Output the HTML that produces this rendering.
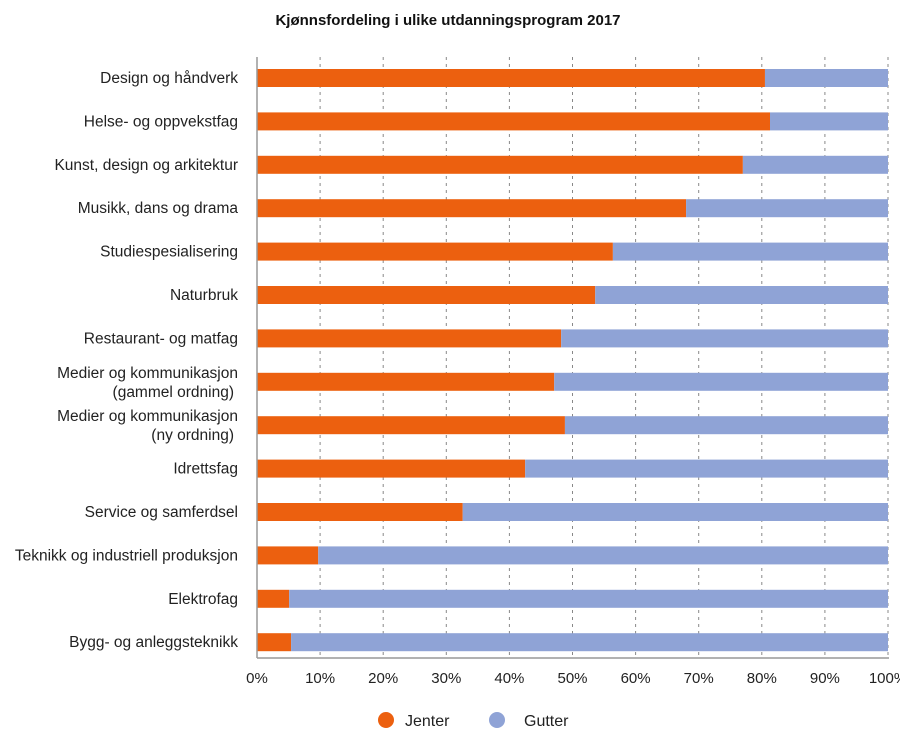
<!DOCTYPE html>
<html><head><meta charset="utf-8"><style>
body{margin:0;background:#fff;width:900px;height:741px;overflow:hidden;font-family:"Liberation Sans",Arial,sans-serif}
</style></head><body>
<svg id="chart" width="900" height="741" xmlns="http://www.w3.org/2000/svg">
<text x="448" y="25" text-anchor="middle" font-size="15" font-weight="bold" fill="#111">Kjønnsfordeling i ulike utdanningsprogram 2017</text>
<g id="grid"></g><g id="bars"></g><g id="labels"></g><g id="ticks"></g>
<line x1="257" y1="57" x2="257" y2="658" stroke="#999" stroke-width="1.5"/>
<line x1="257" y1="658" x2="889" y2="658" stroke="#999" stroke-width="1.5"/>
<g>
<circle cx="386" cy="720" r="8" fill="#ec600f"/>
<text x="405" y="726" font-size="16" fill="#222">Jenter</text>
<circle cx="497" cy="720" r="8" fill="#8fa3d6"/>
<text x="524" y="726" font-size="16" fill="#222">Gutter</text>
</g>
</svg>
<script>
const categories=[["Design og håndverk"],["Helse- og oppvekstfag"],["Kunst, design og arkitektur"],["Musikk, dans og drama"],["Studiespesialisering"],["Naturbruk"],["Restaurant- og matfag"],["Medier og kommunikasjon","(gammel ordning)"],["Medier og kommunikasjon","(ny ordning)"],["Idrettsfag"],["Service og samferdsel"],["Teknikk og industriell produksjon"],["Elektrofag"],["Bygg- og anleggsteknikk"]];
const jenter=[80.5,81.3,77.0,68.0,56.4,53.6,48.2,47.1,48.8,42.5,32.6,9.7,5.1,5.4];
const tickValues=[0,10,20,30,40,50,60,70,80,90,100];
const tickLabels=["0%","10%","20%","30%","40%","50%","60%","70%","80%","90%","100%"];
const NS="http://www.w3.org/2000/svg";
const x0=257,x1=888,yTop=78,step=43.4,bh=18;
const xs=v=>x0+(x1-x0)*v/100;
const ys=i=>yTop+i*step;
function mk(t,a,p){const e=document.createElementNS(NS,t);for(const k in a)e.setAttribute(k,a[k]);p.appendChild(e);return e;}
const grid=document.getElementById('grid'),bars=document.getElementById('bars'),labels=document.getElementById('labels'),ticks=document.getElementById('ticks');
tickValues.forEach((v,i)=>{
 if(v>0){const l=mk('line',{x1:xs(v),x2:xs(v),y1:57,y2:658,stroke:'#888','stroke-dasharray':'3,4','stroke-width':1},grid);
 
 }
 const t=mk('text',{x:xs(v),y:683,'text-anchor':'middle','font-size':15,fill:'#222'},ticks);t.textContent=tickLabels[i];
 
 
});
categories.forEach((c,i)=>{
 const y=ys(i);
 const b1=mk('rect',{x:xs(0),y:y-bh/2,width:xs(jenter[i])-xs(0),height:bh,fill:'#ec600f'},bars);
 
 
 const b2=mk('rect',{x:xs(jenter[i]),y:y-bh/2,width:xs(100)-xs(jenter[i]),height:bh,fill:'#8fa3d6'},bars);
 
 
 const t=mk('text',{x:238,'text-anchor':'end','font-size':15.5,fill:'#222'},labels);
 
 
 if(c.length===1){t.setAttribute('y',y+5);t.textContent=c[0];}
 else{t.setAttribute('y',y-4);t.textContent=c[0];
  const t2=mk('text',{x:238-4,y:y+15,'text-anchor':'end','font-size':15.5,fill:'#222'},labels);t2.textContent=c[1];
  
  }
});
</script>
</body></html>
